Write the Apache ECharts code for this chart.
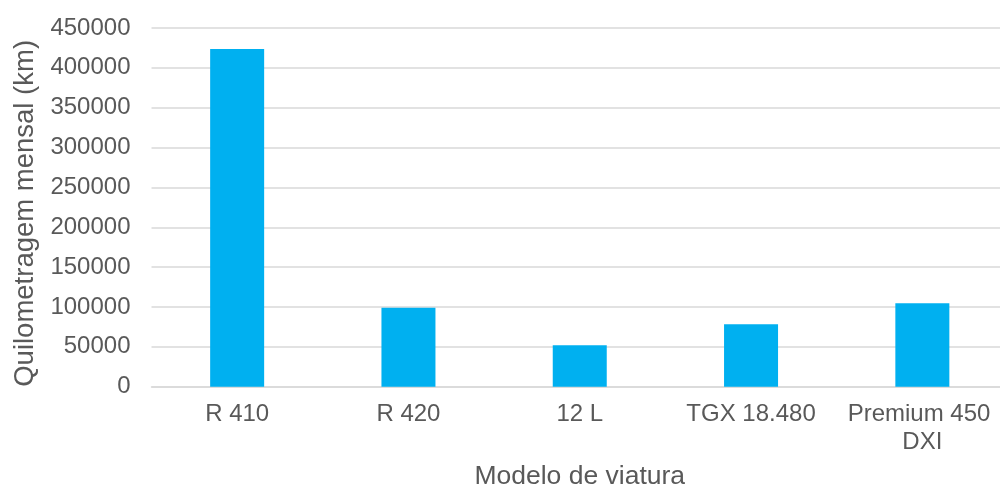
<!DOCTYPE html>
<html>
<head>
<meta charset="utf-8">
<script src="https://cdn.jsdelivr.net/npm/echarts@6/dist/echarts.min.js"></script>
<style>
  html, body { margin: 0; padding: 0; background: #ffffff; }
  #chart { width: 1000px; height: 491px; }
</style>
</head>
<body>
<div id="chart"></div>
<script>
// Monthly mileage per vehicle model
const models = ['R 410', 'R 420', '12 L', 'TGX 18.480', 'Premium 450 DXI'];
const mileage = [423700, 99000, 52000, 78300, 104600];
const yTicks = [0, 50000, 100000, 150000, 200000, 250000, 300000, 350000, 400000, 450000];

const FONT = '"Liberation Sans", Arial, sans-serif';
const TEXT = '#595959';
const GRID = '#d9d9d9';

const chart = echarts.init(document.getElementById('chart'), null, { renderer: 'canvas' });
chart.setOption({
  animation: false,
  backgroundColor: '#ffffff',
  grid: {
    left: 151.5, top: 28, width: 856.5, bottom: 104.3,
    containLabel: false, outerBoundsMode: 'none'
  },
  xAxis: {
    type: 'category',
    data: models,
    name: 'Modelo de viatura',
    nameLocation: 'middle',
    nameGap: 76,
    nameTextStyle: { color: TEXT, fontSize: 26.5, fontFamily: FONT },
    axisLine: { show: true, lineStyle: { color: GRID, width: 1.5 } },
    axisTick: { show: false },
    axisLabel: {
      color: TEXT, fontSize: 24, fontFamily: FONT, margin: 14,
      lineHeight: 28, width: 160, overflow: 'break', interval: 0
    }
  },
  yAxis: {
    type: 'value',
    min: yTicks[0],
    max: yTicks[yTicks.length - 1],
    interval: yTicks[1] - yTicks[0],
    name: 'Quilometragem mensal (km)',
    nameLocation: 'middle',
    nameGap: 112,
    nameTextStyle: {
      color: TEXT, fontSize: 27.5, fontFamily: FONT,
      padding: [0, 12, 0, 0]
    },
    axisLine: { show: false },
    axisTick: { show: false },
    axisLabel: {
      color: TEXT, fontSize: 24, fontFamily: FONT, margin: 21,
      formatter: (v) => String(v)
    },
    splitLine: { show: true, lineStyle: { color: GRID, width: 1.5 } }
  },
  series: [{
    type: 'bar',
    data: mileage,
    barWidth: 54,
    itemStyle: { color: '#00b0f0' }
  }]
});
</script>
</body>
</html>
